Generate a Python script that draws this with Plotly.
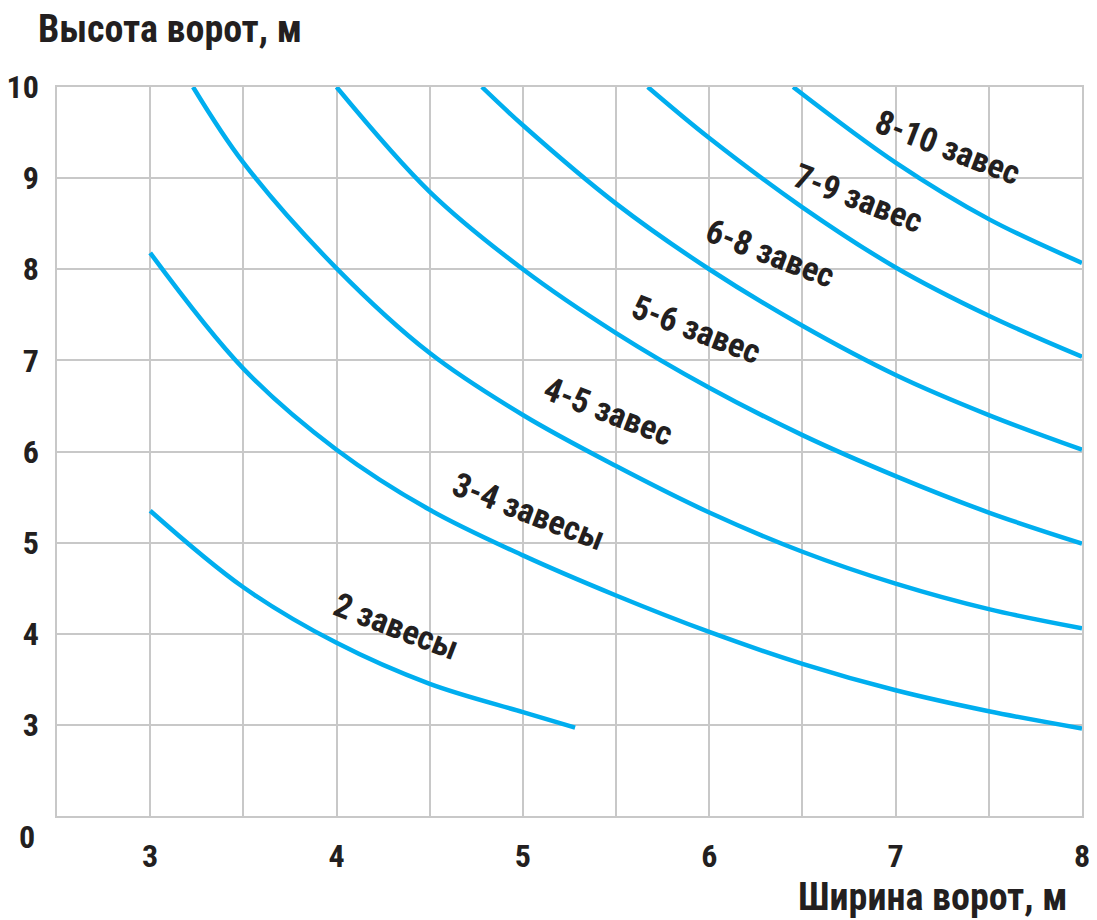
import plotly.graph_objects as go

# ---- data ----
x_2 = [3.0, 3.5, 4.0, 4.5, 5.0, 5.28]
y_2 = [5.35, 4.51, 3.90, 3.45, 3.14, 2.97]

x_3_4 = [3.0, 3.5, 4.0, 4.5, 5.0, 5.5, 6.0, 6.5, 7.0, 7.5, 8.0]
y_3_4 = [8.18, 6.91, 6.02, 5.36, 4.86, 4.42, 4.02, 3.67, 3.38, 3.15, 2.96]

x_4_5 = [3.23, 3.5, 4.0, 4.5, 5.0, 5.5, 6.0, 6.5, 7.0, 7.5, 8.0]
y_4_5 = [10.0, 9.17, 8.01, 7.08, 6.40, 5.84, 5.33, 4.90, 4.55, 4.27, 4.06]

x_5_6 = [4.0, 4.5, 5.0, 5.5, 6.0, 6.5, 7.0, 7.5, 8.0]
y_5_6 = [10.0, 8.85, 8.00, 7.30, 6.70, 6.18, 5.73, 5.33, 4.99]

x_6_8 = [4.78, 5.0, 5.5, 6.0, 6.5, 7.0, 7.5, 8.0]
y_6_8 = [10.0, 9.58, 8.72, 8.00, 7.38, 6.84, 6.40, 6.02]

x_7_9 = [5.67, 6.0, 6.5, 7.0, 7.5, 8.0]
y_7_9 = [10.0, 9.44, 8.68, 8.02, 7.49, 7.04]

x_8_10 = [6.45, 7.0, 7.5, 8.0]
y_8_10 = [10.0, 9.17, 8.55, 8.07]

series_x = [x_2, x_3_4, x_4_5, x_5_6, x_6_8, x_7_9, x_8_10]
series_y = [y_2, y_3_4, y_4_5, y_5_6, y_6_8, y_7_9, y_8_10]

curve_labels = ["2 завесы", "3-4 завесы", "4-5 завес", "5-6 завес",
                "6-8 завес", "7-9 завес", "8-10 завес"]
# label centre positions in data units
label_x = [4.32, 5.03, 5.46, 5.93, 6.33, 6.80, 7.28]
label_y = [4.08, 5.35, 6.44, 7.34, 8.18, 8.78, 9.34]

x_ticks = [3, 4, 5, 6, 7, 8]
y_ticks = [3, 4, 5, 6, 7, 8, 9, 10]

y_title = "Высота ворот, м"
x_title = "Ширина ворот, м"

# ---- style ----
FONT = "Liberation Sans Narrow, Roboto Condensed, Arial Narrow, Roboto, sans-serif"
TXT = "#231f20"
BLUE = "#00aeef"
GRID = "#c8c8c8"

fig = go.Figure()
for xs, ys in zip(series_x, series_y):
    fig.add_trace(go.Scatter(x=xs, y=ys, mode="lines",
                             line=dict(color=BLUE, width=4.5, shape="spline", smoothing=1.0),
                             hoverinfo="skip", showlegend=False))

for t, lx, ly in zip(curve_labels, label_x, label_y):
    fig.add_annotation(x=lx, y=ly, xref="x", yref="y", text=t, showarrow=False,
                       textangle=21,
                       font=dict(family=FONT, size=34, color=TXT, weight="bold"))

# "0" at the origin corner
fig.add_annotation(x=0, y=0, xref="paper", yref="paper", text="0", showarrow=False,
                   xanchor="right", yanchor="top", xshift=-20, yshift=0,
                   font=dict(family=FONT, size=32, color=TXT, weight="bold"))

# y-axis title, top left
fig.add_annotation(x=0, y=1, xref="paper", yref="paper", text=y_title, showarrow=False,
                   xanchor="left", yanchor="bottom", xshift=-21, yshift=34,
                   font=dict(family=FONT, size=38, color=TXT, weight="bold"))

# x-axis title, bottom right
fig.add_annotation(x=1, y=0, xref="paper", yref="paper", text=x_title, showarrow=False,
                   xanchor="right", yanchor="top", xshift=-12, yshift=-57,
                   font=dict(family=FONT, size=38, color=TXT, weight="bold"))

# page body has an 8px margin, so the figure is 8px smaller and shifted
fig.update_layout(
    width=1089, height=912,
    margin=dict(l=49, r=15, t=79, b=104),
    paper_bgcolor="white", plot_bgcolor="white",
    showlegend=False,
)

fig.update_xaxes(range=[2.5, 8], tickmode="array", tickvals=x_ticks, automargin=False,
                 showgrid=True, gridcolor=GRID, gridwidth=1.5,
                 minor=dict(dtick=0.5, tick0=0, showgrid=True, gridcolor=GRID, gridwidth=1.5),
                 showline=True, linecolor=GRID, linewidth=1.5, mirror=True,
                 zeroline=False, ticks="", ticklabelstandoff=11,
                 tickfont=dict(family=FONT, size=32, color=TXT, weight="bold"))
fig.update_yaxes(range=[2, 10], tickmode="array", tickvals=y_ticks, automargin=False,
                 showgrid=True, gridcolor=GRID, gridwidth=1.5,
                 showline=True, linecolor=GRID, linewidth=1.5, mirror=True,
                 zeroline=False, ticks="", ticklabelstandoff=10,
                 tickfont=dict(family=FONT, size=32, color=TXT, weight="bold"))

fig.write_html("out.html")
